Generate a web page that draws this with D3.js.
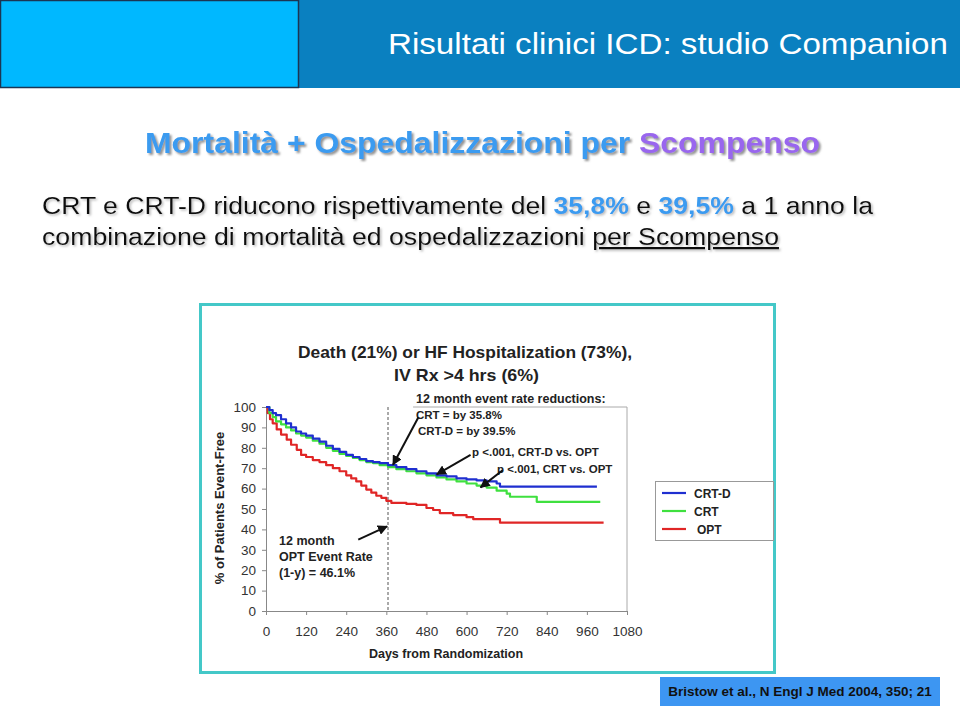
<!DOCTYPE html>
<html>
<head>
<meta charset="utf-8">
<script src="https://cdn.jsdelivr.net/npm/d3@7"></script>
<style>
  html, body { margin: 0; padding: 0; background: #fff; }
  svg { display: block; font-family: "Liberation Sans", Arial, sans-serif; }
</style>
</head>
<body>
<svg id="chart" width="960" height="707"></svg>
<script>
// ---------------- DATA ----------------
const xTicks = [0, 120, 240, 360, 480, 600, 720, 840, 960, 1080];
const yTicks = [0, 10, 20, 30, 40, 50, 60, 70, 80, 90, 100];

const seriesNames = ["CRT-D", "CRT", "OPT"];
const seriesColors = ["#1f2fd0", "#3fe03f", "#e02626"];

const crtdDays = [0,10,20,30,45,60,75,90,105,120,140,160,180,200,220,240,260,280,300,320,340,365,390,420,450,480,510,540,570,600,630,660,690,700,990];
const crtdVals = [100,98.5,97,96,94,92,90,88,87,86,84.5,83,81,79.5,78,76.5,75.5,74.5,73.5,73,72.5,71.5,70.5,69.5,68.5,67.5,66.5,66,65,64.5,64,63.5,62.5,61,61];

const crtDays = [0,10,20,30,45,60,75,90,105,120,140,160,180,200,220,240,260,280,300,320,340,365,390,420,450,480,510,540,570,600,630,660,690,720,730,810,1000];
const crtVals = [100,97,95,93,91.5,90,88.5,87,86,85,83.5,82,80,78.5,77,76,75,74,73,72.5,71.5,70.5,69.5,68.5,67.5,66.5,65.5,64.5,63.5,62.5,61.5,60.5,59,57.5,56,53.5,53.5];

const optDays = [0,5,12,20,32,45,62,75,92,105,120,140,160,180,200,220,240,255,270,285,300,315,330,345,360,375,420,450,480,500,520,560,600,620,700,1010];
const optVals = [100,97,94,92,89,86.5,84,81.5,79,76.5,75.5,74,73,71.5,70,68.5,66.5,65,63.5,61.5,59.5,58,56.5,55.5,54,53,52.5,52,50.5,49.5,48,47,46,45,43.3,43.3];

const landmarkDay = 365;

// ---------------- SETUP ----------------
const svg = d3.select("#chart");
const defs = svg.append("defs");
const sh = defs.append("filter").attr("id", "shadow").attr("x", "-5%").attr("y", "-20%").attr("width", "115%").attr("height", "160%");
sh.append("feDropShadow").attr("dx", 2).attr("dy", 2).attr("stdDeviation", 1).attr("flood-color", "#777").attr("flood-opacity", 0.8);
const sh2 = defs.append("filter").attr("id", "shadow2").attr("x", "-5%").attr("y", "-20%").attr("width", "115%").attr("height", "160%");
sh2.append("feDropShadow").attr("dx", 1.5).attr("dy", 1.5).attr("stdDeviation", 0.8).attr("flood-color", "#999").attr("flood-opacity", 0.7);
defs.append("marker").attr("id", "arrow").attr("viewBox", "0 0 10 10").attr("refX", 9).attr("refY", 5)
  .attr("markerWidth", 5).attr("markerHeight", 5).attr("orient", "auto-start-reverse")
  .append("path").attr("d", "M0,0 L10,5 L0,10 z").attr("fill", "#111");

// Header band
svg.append("rect").attr("x", 0).attr("y", 0).attr("width", 960).attr("height", 88).attr("fill", "#0a80c0");
svg.append("rect").attr("x", 0.5).attr("y", 0.5).attr("width", 298).attr("height", 87).attr("fill", "#00b8ff")
  .attr("stroke", "#1b3553").attr("stroke-width", 1.5);
svg.append("text").attr("x", 388).attr("y", 54).attr("fill", "#fff").attr("font-size", 29)
  .attr("textLength", 560).attr("lengthAdjust", "spacingAndGlyphs")
  .text("Risultati clinici ICD: studio Companion");

// Subtitle
const sub = svg.append("text").attr("x", 145).attr("y", 153).attr("font-size", 29).attr("font-weight", "bold")
  .attr("textLength", 675).attr("lengthAdjust", "spacingAndGlyphs").attr("filter", "url(#shadow)");
sub.append("tspan").attr("fill", "#3a9bf0").text("Mortalità + Ospedalizzazioni per ");
sub.append("tspan").attr("fill", "#9966ee").text("Scompenso");

// Body text
const l1 = svg.append("text").attr("x", 42).attr("y", 214).attr("font-size", 23).attr("fill", "#111")
  .attr("textLength", 831).attr("lengthAdjust", "spacingAndGlyphs").attr("filter", "url(#shadow2)");
l1.append("tspan").text("CRT e CRT-D riducono rispettivamente del ");
l1.append("tspan").attr("fill", "#3a9bf0").attr("font-weight", "bold").text("35,8%");
l1.append("tspan").text(" e ");
l1.append("tspan").attr("fill", "#3a9bf0").attr("font-weight", "bold").text("39,5%");
l1.append("tspan").text(" a 1 anno la");
const l2 = svg.append("text").attr("x", 42).attr("y", 245).attr("font-size", 23).attr("fill", "#111")
  .attr("textLength", 737).attr("lengthAdjust", "spacingAndGlyphs").attr("filter", "url(#shadow2)");
l2.append("tspan").text("combinazione di mortalità ed ospedalizzazioni ");
l2.append("tspan").attr("text-decoration", "underline").text("per Scompenso");

// Chart frame
svg.append("rect").attr("x", 200.5).attr("y", 304.5).attr("width", 574).attr("height", 368)
  .attr("fill", "#fff").attr("stroke", "#44c8c8").attr("stroke-width", 3);

// Chart title
svg.append("text").attr("x", 298).attr("y", 358).attr("font-size", 17).attr("font-weight", "bold").attr("fill", "#222")
  .attr("textLength", 334).attr("lengthAdjust", "spacingAndGlyphs")
  .text("Death (21%) or HF Hospitalization (73%),");
svg.append("text").attr("x", 394).attr("y", 381).attr("font-size", 17).attr("font-weight", "bold").attr("fill", "#222")
  .attr("textLength", 145).attr("lengthAdjust", "spacingAndGlyphs")
  .text("IV Rx >4 hrs (6%)");

// Scales
const x = d3.scaleLinear().domain([0, 1080]).range([266, 627]);
const y = d3.scaleLinear().domain([0, 100]).range([611, 407]);

// Annotation box (top + right edges of the plot)
svg.append("path")
  .attr("d", `M${x(440)},${y(100)} H${x(1080)} V${y(0)}`)
  .attr("fill", "none").attr("stroke", "#aaa").attr("stroke-width", 1);

// Axes
const xAxis = svg.append("g").attr("transform", `translate(0,${y(0)})`)
  .call(d3.axisBottom(x).tickValues(xTicks).tickFormat(d3.format("d")).tickSize(4).tickPadding(11));
const yAxis = svg.append("g").attr("transform", `translate(${x(0)},0)`)
  .call(d3.axisLeft(y).tickValues(yTicks).tickFormat(d3.format("d")).tickSize(4).tickPadding(6));
[xAxis, yAxis].forEach(g => {
  g.select(".domain").attr("stroke", "#888");
  g.selectAll(".tick line").attr("stroke", "#888");
  g.selectAll(".tick text").attr("font-size", 13.5).attr("fill", "#333").attr("font-family", "Liberation Sans, Arial, sans-serif");
});

// Axis labels
svg.append("text").attr("x", 446).attr("y", 658).attr("text-anchor", "middle").attr("font-size", 12.5)
  .attr("font-weight", "bold").attr("fill", "#222").text("Days from Randomization");
svg.append("text").attr("transform", `translate(224,508) rotate(-90)`).attr("text-anchor", "middle")
  .attr("font-size", 13).attr("font-weight", "bold").attr("fill", "#222").text("% of Patients Event-Free");

// Landmark dashed line
svg.append("line").attr("x1", x(landmarkDay)).attr("x2", x(landmarkDay)).attr("y1", y(100)).attr("y2", y(0))
  .attr("stroke", "#555").attr("stroke-width", 1).attr("stroke-dasharray", "3,2");

// Curves
const series = [
  { days: optDays, vals: optVals, color: seriesColors[2] },
  { days: crtDays, vals: crtVals, color: seriesColors[1] },
  { days: crtdDays, vals: crtdVals, color: seriesColors[0] }
];
const line = d3.line().x(d => x(d[0])).y(d => y(d[1])).curve(d3.curveStepAfter);
series.forEach(s => {
  svg.append("path").datum(d3.zip(s.days, s.vals)).attr("d", line)
    .attr("fill", "none").attr("stroke", s.color).attr("stroke-width", 2.2).attr("stroke-linejoin", "round");
});

// Annotations
const ann = svg.append("g").attr("font-weight", "bold").attr("fill", "#222");
ann.append("text").attr("x", 416).attr("y", 403).attr("font-size", 12.5).text("12 month event rate reductions:");
ann.append("text").attr("x", 416).attr("y", 419).attr("font-size", 11.5).text("CRT = by 35.8%");
ann.append("text").attr("x", 418).attr("y", 435).attr("font-size", 11.5).text("CRT-D = by 39.5%");
ann.append("text").attr("x", 472).attr("y", 456).attr("font-size", 11.5).text("p <.001, CRT-D vs. OPT");
ann.append("text").attr("x", 497).attr("y", 473).attr("font-size", 11.5).text("p <.001, CRT vs. OPT");
ann.append("text").attr("x", 279).attr("y", 545).attr("font-size", 12.5).text("12 month");
ann.append("text").attr("x", 279).attr("y", 561).attr("font-size", 12.5).text("OPT Event Rate");
ann.append("text").attr("x", 279).attr("y", 577).attr("font-size", 12.5).text("(1-y) = 46.1%");

const arrows = [
  [[456, 95], [380, 71.7]],
  [[612, 76.5], [511, 67]],
  [[708, 69], [642, 60.6]],
  [[276, 35], [362, 41.5]]
];
arrows.forEach(a => {
  svg.append("line").attr("x1", x(a[0][0])).attr("y1", y(a[0][1])).attr("x2", x(a[1][0])).attr("y2", y(a[1][1]))
    .attr("stroke", "#111").attr("stroke-width", 2).attr("marker-end", "url(#arrow)");
});

// Legend
const lg = svg.append("g");
lg.append("rect").attr("x", 655.5).attr("y", 481.5).attr("width", 118).attr("height", 59)
  .attr("fill", "#fff").attr("stroke", "#999");
seriesNames.forEach((n, i) => {
  const yy = 493 + i * 18;
  lg.append("line").attr("x1", 662).attr("x2", 686).attr("y1", yy).attr("y2", yy)
    .attr("stroke", seriesColors[i]).attr("stroke-width", 2.2);
  lg.append("text").attr("x", i === 2 ? 697 : 694).attr("y", yy + 4.5).attr("font-size", 12)
    .attr("font-weight", "bold").attr("fill", "#222").text(n);
});

// Footer citation
svg.append("rect").attr("x", 660).attr("y", 677).attr("width", 280).attr("height", 29).attr("fill", "#3d96f2");
svg.append("text").attr("x", 800).attr("y", 696).attr("text-anchor", "middle").attr("font-size", 13.5)
  .attr("font-weight", "bold").attr("fill", "#111").text("Bristow et al., N Engl J Med 2004, 350; 21");
</script>
</body>
</html>
